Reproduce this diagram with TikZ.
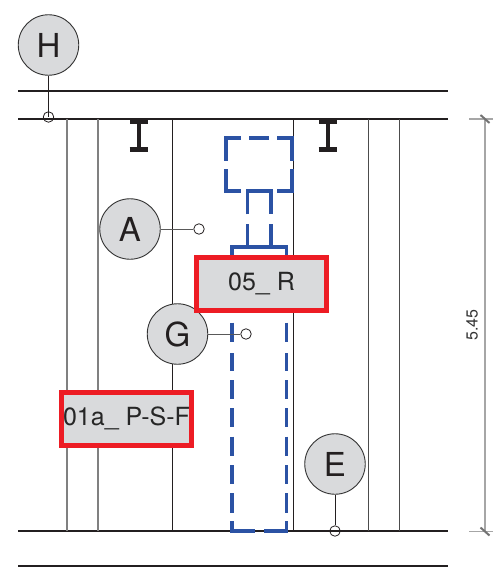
\documentclass[tikz,border=0pt]{standalone}
\usepackage{fontspec}
\setmainfont{TeX Gyre Heros}
\definecolor{inkc}{HTML}{231F20}
\definecolor{fillc}{HTML}{D9DADC}
\definecolor{redc}{HTML}{ED1C24}
\definecolor{bluec}{HTML}{2B52A4}
\tikzset{
  x=1pt,y=-1pt,
  mainline/.style={draw=inkc,line width=2.6pt},
  thinline/.style={draw=inkc,line width=0.9pt},
  greyline/.style={draw=black!50,line width=1.1pt},
  darkline/.style={draw=black!70,line width=1pt},
  tagc/.style={circle,draw=black!80,line width=0.9pt,fill=fillc,minimum size=60.5pt,inner sep=0pt,text=inkc,font=\fontsize{33}{33}\selectfont},
  dotc/.style={circle,draw=inkc,line width=0.8pt,minimum size=10.5pt,inner sep=0pt},
  leader/.style={draw=black!65,line width=1pt},
  redbox/.style={rectangle,draw=redc,line width=5pt,fill=fillc,inner sep=0pt,text=black!85,font=\fontsize{25}{25}\selectfont},
  bluedash/.style={draw=bluec,line width=3.9pt,line cap=butt,line join=miter},
  beam/.style={draw=inkc,line width=5pt},
  web/.style={draw=inkc,line width=4pt},
  dimline/.style={draw=black!35,line width=1.2pt},
  dimtick/.style={draw=black!55,line width=2pt},
  dimtext/.style={text=black!80,font=\fontsize{16}{16}\selectfont,rotate=90,inner sep=0pt}
}
\begin{document}
\begin{tikzpicture}
\useasboundingbox (0,0) rectangle (493,567);
% horizontal lines
\coordinate (t1a) at (18,91); \coordinate (t1b) at (448,91);
\coordinate (t2a) at (18,119); \coordinate (t2b) at (448,119);
\coordinate (b1a) at (18,531); \coordinate (b1b) at (448,531);
\coordinate (b2a) at (18,566); \coordinate (b2b) at (448,566);
\path[mainline] (t1a) -- (t1b);
\path[mainline] (t2a) -- (t2b);
\path[mainline] (b1a) -- (b1b);
\path[draw=inkc,line width=1.4pt] (b2a) -- (b2b);
% verticals
\foreach \vx/\vs in {67/greyline,98/greyline,172/thinline,293.5/thinline,368/darkline,399/darkline}
  \path[\vs] (\vx,119) -- (\vx,531);
% I sections
\foreach \bx in {138.5,327.5}{
  \path[beam] (\bx-9,121.5) -- (\bx+9,121.5);
  \path[beam] (\bx-9,149.7) -- (\bx+9,149.7);
  \path[web] (\bx,121) -- (\bx,150);
}
% blue dashed outlines
\path[bluedash] (241,138) -- (226,138) -- (226,160.7);
\path[bluedash] (249.3,138) -- (269,138);
\path[bluedash] (277.3,138) -- (291.7,138) -- (291.7,160.7);
\path[bluedash] (226,169.3) -- (226,191) -- (241,191);
\path[bluedash] (291.7,169.3) -- (291.7,191) -- (277,191);
\path[bluedash] (247.5,214.3) -- (247.5,191) -- (271,191) -- (271,214.3);
\path[bluedash] (247.5,224) -- (247.5,246.7);
\path[bluedash] (271,224) -- (271,246.7);
\path[bluedash] (232,256) -- (232,246.7) -- (286.5,246.7) -- (286.5,256);
\foreach \da/\db in {305/313,322.5/342,353/371,380/399,408/427,436.5/455.5,465/484,493/513}{
  \path[bluedash] (232,\da) -- (232,\db);
  \path[bluedash] (286.5,\da) -- (286.5,\db);
}
\path[bluedash] (232,521) -- (232,531) -- (255,531);
\path[bluedash] (286.5,521) -- (286.5,531) -- (264,531);
% tags
\node[tagc] (H) at (48.5,45) {H};
\node[tagc] (A) at (130,229) {A};
\node[tagc] (G) at (177.5,334) {G};
\node[tagc] (E) at (335,464) {E};
\node[dotc] (hd) at (48.5,117) {};
\node[dotc] (ad) at (199,229) {};
\node[dotc] (gd) at (246,334) {};
\node[dotc] (ed) at (335,531) {};
\path[thinline] (H) -- (hd.center);
\path[leader] (A) -- (ad);
\path[leader] (G) -- (gd);
\path[thinline] (E) -- (ed);
% labels
\node[redbox,minimum width=130pt,minimum height=53pt] (r1) at (261.5,283.5) {05\_ R};
\node[redbox,minimum width=130pt,minimum height=53pt] (r2) at (126.5,418.5) {01a\_ P-S-F};
% dimension
\coordinate (d1) at (485,119); \coordinate (d2) at (485,531.5);
\coordinate (d1l) at (469,119); \coordinate (d1r) at (493,119);
\coordinate (d2l) at (469,531.5); \coordinate (d2r) at (493,531.5);
\path[dimline] (d1) -- (d2);
\path[dimline] (d1l) -- (d1r);
\path[dimline] (d2l) -- (d2r);
\path[dimtick] (480.5,115) -- (489.5,123);
\path[dimtick] (480.5,527.5) -- (489.5,535.5);
\node[dimtext] (dim) at (472,325) {5.45};
\end{tikzpicture}
\end{document}
